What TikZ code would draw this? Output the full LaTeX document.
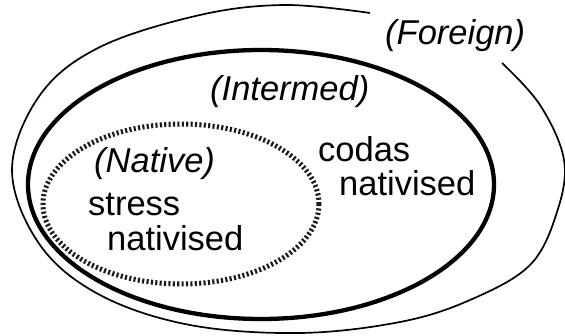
\documentclass[tikz,border=0pt]{standalone}
\usepackage{fontspec}
\setmainfont{Liberation Sans}

\begin{document}
\begin{tikzpicture}[x=1pt,y=-1pt,
        txt/.style={anchor=base west, inner sep=0pt, font=\fontsize{34.5}{35}\selectfont},
        itxt/.style={txt, font=\fontsize{34.5}{35}\selectfont\itshape},
        nativeline/.style={black!90, line width=5pt, dash pattern=on 2.1pt off 2.3pt}]
        \useasboundingbox (0,0) rectangle (565,336);

        % Внешний контур (с разрывом)
        \draw[line width=1.7pt] plot[smooth, tension=0.6] coordinates {
            (370,13) (285,5) (200,15) (100,47) (40,95) (12,170) (40,245) (100,295)
            (190,325) (300,333) (400,322) (470,300) (530,265) (557,212) (564,160)
            (540,105) (502,63)};

        % Промежуточный и внутренний эллипсы
        \draw[line width=4.3pt] (261,184.5) ellipse [x radius=233, y radius=134.5];
        \draw[nativeline] (181,204) ellipse [x radius=138, y radius=80];

        % Подписи
        \node[itxt] (foreign)  at (385,45)  {(Foreign)};
        \node[itxt] (intermed) at (210,101) {(Intermed)};
        \node[itxt] (native)   at (94,173)  {(Native)};
        \node[txt]  (stress)   at (88,216)  {stress};
        \node[txt]  (stressn)  at (107,251) {nativised};
        \node[txt]  (codas)    at (318,162) {codas};
        \node[txt]  (codasn)   at (339,196) {nativised};
    \end{tikzpicture}
\end{document}
